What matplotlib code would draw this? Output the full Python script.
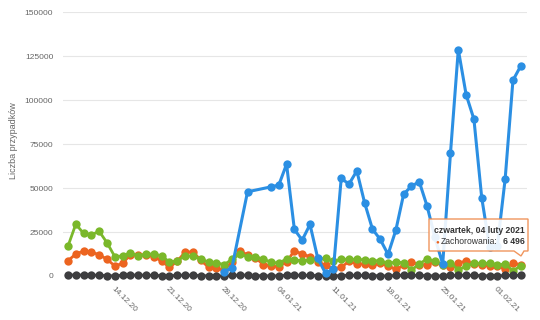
import numpy as np
import pandas as pd
import matplotlib.pyplot as plt
from matplotlib.patches import Polygon

plt.rcParams['font.family'] = ['Liberation Sans', 'DejaVu Sans']

# daily values, 08.12.2020 - 04.02.2021
dates = pd.date_range('2020-12-08', '2021-02-04', freq='D')
tick_labels = ['14.12.20', '21.12.20', '28.12.20', '04.01.21',
               '11.01.21', '18.01.21', '25.01.21', '01.02.21']

zachorowania = [8700, 12500, 14200, 13600, 12100, 9500, 5700, 7200, 12200, 12000,
                12000, 11000, 8500, 4900, 8500, 13500, 13800, 9000, 5000, 4600,
                3200, 8000, 14400, 12000, 10500, 6500, 5800, 5300, 8000, 14400,
                12500, 11000, 8000, 6000, 4000, 5000, 8300, 7000, 6900, 6000,
                7200, 5700, 3800, 6000, 7950, 6400, 6400, 8000, 6000, 5000,
                7570, 8300, 7000, 6100, 5800, 5500, 4000, 7200, 6496]

ozdrowienia = [17000, 29500, 24200, 23500, 25400, 18900, 11000, 11400, 13250, 11400,
               12500, 12500, 11400, 7950, 8700, 11400, 11400, 9500, 7950, 7570,
               6400, 9500, 12500, 11000, 11000, 9500, 7950, 7200, 9800, 9200,
               8500, 9200, 9800, 10000, 8300, 9500, 9500, 9500, 9100, 8700,
               8700, 7200, 7950, 7570, 3400, 6800, 9800, 8300, 6400, 7570,
               3400, 5700, 7200, 7200, 7200, 6400, 6800, 3000, 5700]

zgony = [570, 580, 540, 490, 450, 180, 110, 450, 530, 520,
         440, 400, 160, 100, 380, 500, 430, 220, 90, 60,
         40, 320, 550, 480, 260, 100, 80, 70, 440, 500,
         410, 360, 230, 80, 40, 270, 410, 360, 330, 280,
         80, 50, 330, 430, 400, 330, 230, 70, 40, 290,
         430, 400, 340, 230, 70, 40, 310, 410, 370]

szczepienia = [np.nan] * 20 + [2460, 4730, np.nan, 47900, np.nan, np.nan,
               50700, 51700, 63600, 26500, 20400, 29300, 10000, 1500, 3800,
               55500, 52300, 59800, 41600, 26700, 20800, 12300, 26100, 46600, 51100,
               53600, 39800, 22000, 6800, 70000, 128800, 103200, 89200, 44500, 16600,
               17000, 55100, 111300, 119500]

x = np.arange(len(dates))
szczep = np.array(szczepienia, dtype=float)
ok = ~np.isnan(szczep)

fig = plt.figure(figsize=(5.4, 3.2), dpi=100)
ax = fig.add_axes([63 / 540, 44 / 320, 464 / 540, 263.7 / 320])

ms = 6
ax.plot(x, zachorowania, color='#ec6420', lw=2, marker='o', ms=ms, mew=0,
        zorder=2, clip_on=False)
ax.plot(x, ozdrowienia, color='#7ab82a', lw=2, marker='o', ms=ms, mew=0,
        zorder=3, clip_on=False)
ax.plot(x, zgony, color='#3d3d3f', lw=2, marker='o', ms=ms, mew=0,
        zorder=4, clip_on=False)
ax.plot(x[ok], szczep[ok], color='#2b8fe3', lw=2.2, marker='o', ms=ms, mew=0,
        zorder=5, clip_on=False)

ax.set_xlim(-0.64, len(dates) - 1 + 0.8)
ax.set_ylim(0, 150000)
ax.set_yticks(np.arange(0, 150001, 25000))
ax.yaxis.grid(True, color='#e6e6e6', lw=0.8)
ax.set_axisbelow(True)

labels = list(dates.strftime('%d.%m.%y'))
ticks = [labels.index(t) for t in tick_labels]
ax.set_xticks(ticks)
ax.set_xticklabels(tick_labels, rotation=-45, ha='left', va='top',
                   rotation_mode='anchor')

ax.tick_params(axis='both', length=0, labelsize=6, labelcolor='#666666')
ax.tick_params(axis='y', pad=7)
ax.tick_params(axis='x', pad=7)
for s in ax.spines.values():
    s.set_visible(False)

fig.text(14 / 540, 1 - 141 / 320, 'Liczba przypadków', rotation=90,
         fontsize=6.5, color='#666666', ha='center', va='center')

# tooltip
def px(xp, yp):
    return (xp / 540, 1 - yp / 320)

box = [px(429, 219), px(528, 219), px(528, 251), px(524, 251), px(521, 256),
       px(514, 251), px(429, 251)]
fig.patches.append(Polygon(box, closed=True, transform=fig.transFigure,
                           facecolor='white', edgecolor='#ef8a4c', lw=1,
                           alpha=0.9, zorder=10))
fig.text(*px(433.5, 230.5), 'czwartek, 04 luty 2021', fontsize=6.2,
         fontweight='bold', color='#333333', va='center', ha='left', zorder=11)
fig.text(*px(437, 241.5), '●', fontsize=4.5, color='#ec6420',
         va='center', ha='center', zorder=11)
fig.text(*px(440.5, 241.5), 'Zachorowania:', fontsize=6.2, color='#333333',
         va='center', ha='left', zorder=11)
fig.text(*px(525, 241.5), '6 496', fontsize=6.2, fontweight='bold',
         color='#333333', va='center', ha='right', zorder=11)

fig.savefig('out.png', dpi=100)
